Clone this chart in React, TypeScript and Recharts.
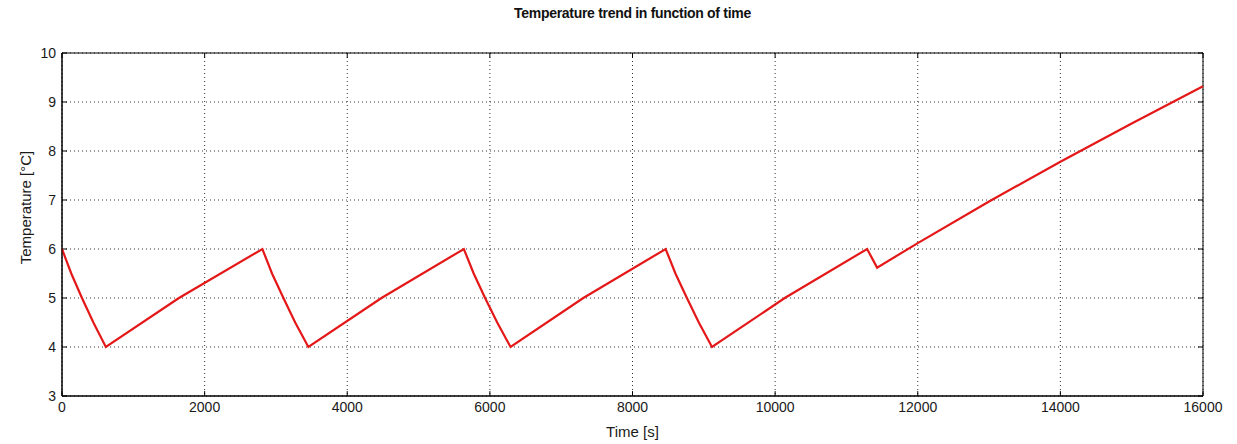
import {
  CartesianGrid,
  Label,
  Line,
  LineChart,
  ReferenceArea,
  ReferenceLine,
  XAxis,
  YAxis,
} from "recharts";

// time [s] and temperature [°C]
const time = [
  0, 130, 280, 440, 615, 1640, 2810, 2945, 3105, 3270, 3455, 4480, 5635, 5773,
  5933, 6103, 6290, 7310, 8465, 8602, 8763, 8930, 9115, 10135, 11290, 11430,
  12000, 13000, 14000, 15000, 16000,
];
const temperature = [
  6, 5.5, 5, 4.5, 4, 5, 6, 5.5, 5, 4.5, 4, 5, 6, 5.5, 5, 4.5, 4, 5, 6, 5.5, 5,
  4.5, 4, 5, 6, 5.62, 6.12, 6.97, 7.78, 8.56, 9.32,
];

const xTicks = [0, 2000, 4000, 6000, 8000, 10000, 12000, 14000, 16000];
const yTicks = [3, 4, 5, 6, 7, 8, 9, 10];

const data = time.map((t, i) => ({ t, temp: temperature[i] }));

const font = "'Liberation Sans', Arial, Helvetica, sans-serif";
const tickStyle = { fontSize: 14, fill: "#1a1a1a", fontFamily: font };

// small inward tick marks, matlab style (lengths in data units)
const xTickLen = 0.1;
const yTickLen = 70;

const YLabel = ({ viewBox }: any) => {
  const cx = viewBox.x + 25;
  const cy = viewBox.y + viewBox.height / 2 - 17;
  return (
    <text
      x={cx}
      y={cy}
      transform={`rotate(-90, ${cx}, ${cy})`}
      textAnchor="middle"
      dominantBaseline="central"
      style={{ ...tickStyle, fontSize: 15 }}
    >
      Temperature [°C]
    </text>
  );
};

export default function App() {
  return (
    <div
      style={{
        position: "absolute",
        left: 0,
        top: 0,
        width: 1237,
        height: 444,
        background: "#fff",
      }}
    >
      <div
        style={{
          position: "absolute",
          top: 5,
          left: 62,
          width: 1141,
          textAlign: "center",
          fontFamily: font,
          fontWeight: "bold",
          fontSize: 14,
          letterSpacing: -0.3,
          color: "#111",
        }}
      >
        Temperature trend in function of time
      </div>
      <LineChart
        width={1237}
        height={444}
        data={data}
        margin={{ top: 53, right: 34, bottom: 0, left: 0 }}
      >
        <CartesianGrid stroke="#333" strokeDasharray="1 3" />
        <XAxis
          dataKey="t"
          type="number"
          domain={[0, 16000]}
          ticks={xTicks}
          height={48}
          tickSize={0}
          tickMargin={6}
          tickLine={false}
          axisLine={{ stroke: "#000" }}
          tick={tickStyle}
          interval={0}
        >
          <Label
            value="Time [s]"
            position="insideBottom"
            offset={7}
            style={{ ...tickStyle, fontSize: 15 }}
          />
        </XAxis>
        <YAxis
          type="number"
          domain={[3, 10]}
          ticks={yTicks}
          width={62}
          tickSize={0}
          tickMargin={6}
          tickLine={false}
          axisLine={{ stroke: "#000" }}
          tick={tickStyle}
          interval={0}
        >
          <Label content={YLabel} />
        </YAxis>
        <ReferenceArea
          x1={0}
          x2={16000}
          y1={3}
          y2={10}
          fill="none"
          stroke="#000"
          strokeWidth={1}
        />
        {xTicks.map((t) => (
          <ReferenceLine
            key={`xb${t}`}
            segment={[
              { x: t, y: 3 },
              { x: t, y: 3 + xTickLen },
            ]}
            stroke="#000"
          />
        ))}
        {xTicks.map((t) => (
          <ReferenceLine
            key={`xt${t}`}
            segment={[
              { x: t, y: 10 },
              { x: t, y: 10 - xTickLen },
            ]}
            stroke="#000"
          />
        ))}
        {yTicks.map((v) => (
          <ReferenceLine
            key={`yl${v}`}
            segment={[
              { x: 0, y: v },
              { x: yTickLen, y: v },
            ]}
            stroke="#000"
          />
        ))}
        {yTicks.map((v) => (
          <ReferenceLine
            key={`yr${v}`}
            segment={[
              { x: 16000, y: v },
              { x: 16000 - yTickLen, y: v },
            ]}
            stroke="#000"
          />
        ))}
        <Line
          type="linear"
          dataKey="temp"
          stroke="#e41818"
          strokeWidth={2.2}
          dot={false}
          isAnimationActive={false}
        />
      </LineChart>
    </div>
  );
}
